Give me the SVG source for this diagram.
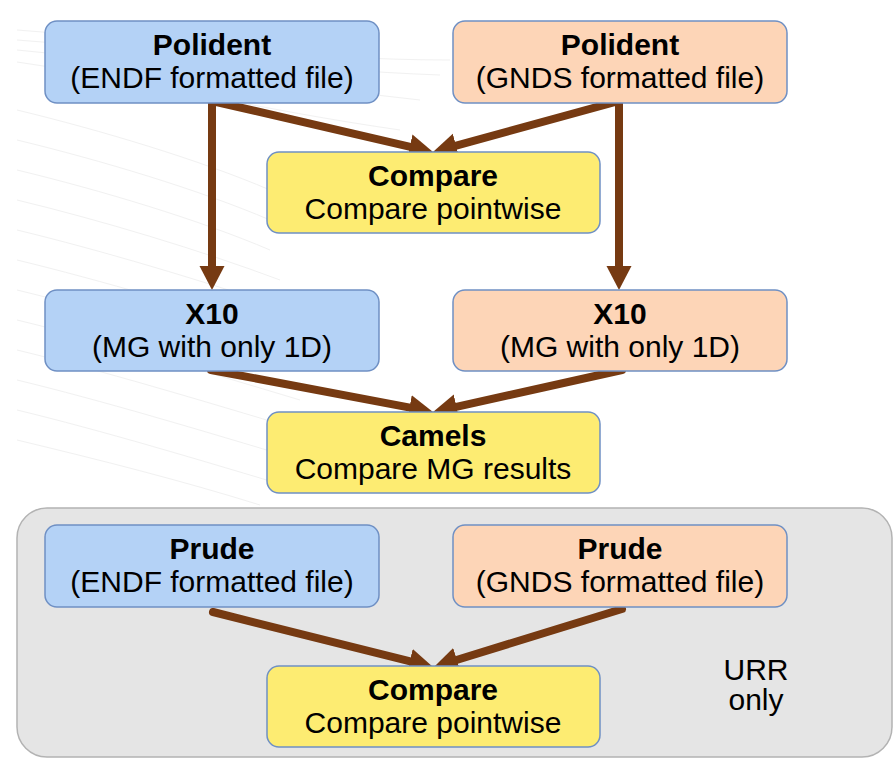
<svg xmlns="http://www.w3.org/2000/svg" width="894" height="758" viewBox="0 0 894 758">
<style>
.box{stroke:#6f90c4;stroke-width:1.5}
.blue{fill:#b4d2f6}
.orange{fill:#fdd5b7}
.yellow{fill:#fdec72}
.t{font-family:"Liberation Sans",Arial,sans-serif;font-size:30px;fill:#000;text-anchor:middle}
.b{font-weight:bold}
.conn{fill:none;stroke:#763a12;stroke-width:8;stroke-linejoin:miter}
.bg{fill:none;stroke:#f1f1f1;stroke-width:1}
</style>
<defs>
<marker id="ah" markerUnits="userSpaceOnUse" markerWidth="26" markerHeight="26" refX="14" refY="12.5" orient="auto-start-reverse">
<path d="M0,0 L24,12.5 L0,25 z" fill="#763a12"/>
</marker>
</defs>
<rect width="894" height="758" fill="#ffffff"/>
<g id="background">
<path class="bg" d="M17,30 C150,40 300,60 450,60"/>
<path class="bg" d="M17,40 C150,50 300,70 440,75"/>
<path class="bg" d="M17,50 C150,62 280,85 420,100"/>
<path class="bg" d="M17,62 C140,80 260,110 400,130"/>
<path class="bg" d="M17,110 C100,130 200,160 270,190"/>
<path class="bg" d="M17,140 C100,160 200,190 270,220"/>
<path class="bg" d="M17,170 C100,190 200,220 270,250"/>
<path class="bg" d="M17,200 C100,220 200,250 280,280"/>
<path class="bg" d="M17,230 C100,250 200,280 290,310"/>
<path class="bg" d="M17,260 C100,280 200,310 300,340"/>
<path class="bg" d="M17,290 C100,310 200,340 300,370"/>
<path class="bg" d="M17,320 C100,340 200,370 300,400"/>
<path class="bg" d="M17,350 C100,370 200,400 300,430"/>
<path class="bg" d="M17,380 C100,400 200,430 300,460"/>
<path class="bg" d="M17,410 C100,430 200,460 300,490"/>
<path class="bg" d="M17,440 C100,460 180,480 260,505"/>
</g>
<g id="urr-panel">
<rect x="17" y="508" width="875" height="249" rx="30" ry="30" fill="#e5e5e5" stroke="#b3b3b3" stroke-width="1.5"/>
<text class="t" x="756" y="680" font-size="28">URR</text>
<text class="t" x="756" y="710" font-size="28">only</text>
</g>
<g id="connectors">
<path class="conn" d="M212,280 L212,101 L423.3,149.8" marker-start="url(#ah)" marker-end="url(#ah)"/>
<path class="conn" d="M619,280 L619,101 L442.6,149.4" marker-start="url(#ah)" marker-end="url(#ah)"/>
<path class="conn" d="M211,370 L423.2,410.1" stroke-linecap="round" marker-end="url(#ah)"/>
<path class="conn" d="M622,370 L442.8,409.8" stroke-linecap="round" marker-end="url(#ah)"/>
<path class="conn" d="M213,612 L423.3,664.6" stroke-linecap="round" marker-end="url(#ah)"/>
<path class="conn" d="M622,609 L443.5,664" stroke-linecap="round" marker-end="url(#ah)"/>
</g>
<g id="polident-endf">
<rect class="box blue" x="45" y="21" width="334" height="82" rx="12"/>
<text class="t b" x="212" y="55">Polident</text>
<text class="t" x="212" y="88">(ENDF formatted file)</text>
</g>
<g id="polident-gnds">
<rect class="box orange" x="453" y="21" width="334" height="82" rx="12"/>
<text class="t b" x="620" y="55">Polident</text>
<text class="t" x="620" y="88">(GNDS formatted file)</text>
</g>
<g id="compare-top">
<rect class="box yellow" x="267" y="152" width="333" height="81" rx="12"/>
<text class="t b" x="433" y="186">Compare</text>
<text class="t" x="433" y="219">Compare pointwise</text>
</g>
<g id="x10-left">
<rect class="box blue" x="45" y="290" width="334" height="81" rx="12"/>
<text class="t b" x="212" y="324">X10</text>
<text class="t" x="212" y="357">(MG with only 1D)</text>
</g>
<g id="x10-right">
<rect class="box orange" x="453" y="290" width="334" height="81" rx="12"/>
<text class="t b" x="620" y="324">X10</text>
<text class="t" x="620" y="357">(MG with only 1D)</text>
</g>
<g id="camels">
<rect class="box yellow" x="267" y="412" width="333" height="81" rx="12"/>
<text class="t b" x="433" y="446">Camels</text>
<text class="t" x="433" y="479">Compare MG results</text>
</g>
<g id="prude-endf">
<rect class="box blue" x="45" y="525" width="334" height="82" rx="12"/>
<text class="t b" x="212" y="559">Prude</text>
<text class="t" x="212" y="592">(ENDF formatted file)</text>
</g>
<g id="prude-gnds">
<rect class="box orange" x="453" y="525" width="334" height="82" rx="12"/>
<text class="t b" x="620" y="559">Prude</text>
<text class="t" x="620" y="592">(GNDS formatted file)</text>
</g>
<g id="compare-bottom">
<rect class="box yellow" x="267" y="666" width="333" height="81" rx="12"/>
<text class="t b" x="433" y="700">Compare</text>
<text class="t" x="433" y="733">Compare pointwise</text>
</g>
</svg>
